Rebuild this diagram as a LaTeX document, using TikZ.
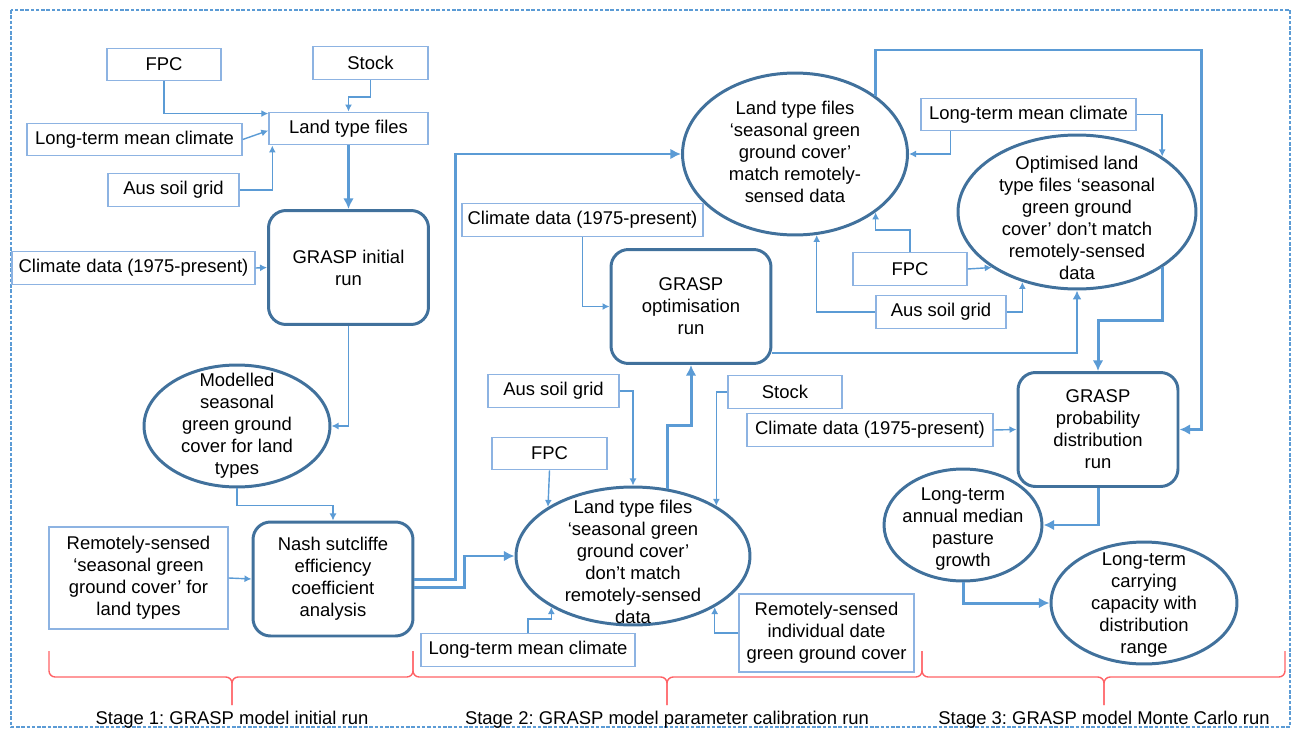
\documentclass[tikz,border=0pt]{standalone}
\usepackage{fontspec}
\setmainfont{Liberation Sans}
\usetikzlibrary{arrows.meta,shapes.geometric,calc}
\definecolor{boxblue}{HTML}{8DB3E2}
\definecolor{linkblue}{HTML}{5B9BD5}
\definecolor{ringblue}{HTML}{41719C}
\definecolor{bracered}{HTML}{FF6266}
\frenchspacing

\begin{document}
\begin{tikzpicture}[
  x=0.02cm, y=-0.02cm,
  font=\fontsize{10.5}{12.5}\selectfont,
  src/.style={draw=boxblue, line width=0.8pt, minimum height=0.65cm, inner sep=1pt, align=center},
  run/.style={draw=ringblue, line width=1.7pt, rounded corners=0.35cm, minimum width=3.2cm, minimum height=2.28cm, align=center},
  oval/.style={ellipse, draw=ringblue, line width=1.7pt, inner sep=0pt},
  every label/.style={align=center, inner sep=0pt},
  link/.style={draw=linkblue, line width=0.8pt, -{Latex[length=4pt,width=4pt]}},
  mid/.style={draw=linkblue, line width=1.2pt, -{Latex[length=5pt,width=5pt]}},
  flow/.style={draw=linkblue, line width=1.7pt, -{Latex[length=6pt,width=6pt]}},
  brk/.style={draw=bracered, line width=0.8pt, rounded corners=3.5pt},
  outerframe/.style={draw=linkblue, line width=0.9pt, dash pattern=on 2pt off 1pt}
]
\useasboundingbox (0,0) rectangle (1295,730);
\draw[outerframe] (11,10) rectangle (1290,727);

\node[src, minimum width=2.28cm] (fpc1) at (164,64.5) {FPC};
\node[src, minimum width=2.3cm] (stock1) at (370.5,63) {Stock};
\node[src, minimum width=3.18cm] (land1) at (348.5,128.5) {Land type files};
\node[src, minimum width=4.3cm] (ltmc1) at (134.5,139.5) {Long-term mean climate};
\node[src, minimum width=2.62cm] (aus1) at (173.5,190) {Aus soil grid};
\node[src, minimum width=4.86cm] (clim1) at (133.5,268) {Climate data (1975-present)};
\node[run] (init) at (348.5,267.5) {GRASP initial\\run};
\node[oval, minimum width=3.72cm, minimum height=2.44cm,
  label={center:Modelled\\seasonal\\green ground\\cover for land\\types}] (model) at (237,426) {};
\node[run] (nash) at (333,579) {Nash sutcliffe\\efficiency\\coefficient\\analysis};
\node[src, minimum width=3.58cm, minimum height=2.04cm] (rs1) at (138.5,578)
  {Remotely-sensed\\‘seasonal green\\ground cover’ for\\land types};

\node[oval, minimum width=4.5cm, minimum height=3.24cm,
  label={[yshift=0.04cm]center:Land type files\\‘seasonal green\\ground cover’\\match remotely-\\sensed data}] (match) at (795,154) {};
\node[src, minimum width=4.82cm] (clim2) at (582.5,220) {Climate data (1975-present)};
\node[run] (opt) at (691,306.5) {GRASP\\optimisation\\run};
\node[src, minimum width=4.3cm] (ltmc2) at (1028.5,114.5) {Long-term mean climate};
\node[oval, minimum width=4.76cm, minimum height=3.08cm,
  label={[yshift=-0.12cm]center:Optimised land\\type files ‘seasonal\\green ground\\cover’ don’t match\\remotely-sensed\\data}] (optim) at (1077,212) {};
\node[src, minimum width=2.28cm] (fpc2) at (910,269) {FPC};
\node[src, minimum width=2.6cm] (aus2) at (941,312) {Aus soil grid};
\node[src, minimum width=2.62cm] (aus3) at (553.5,391) {Aus soil grid};
\node[src, minimum width=2.3cm] (fpc3) at (549.5,453.5) {FPC};
\node[src, minimum width=2.28cm] (stock3) at (785,392) {Stock};
\node[oval, minimum width=4.68cm, minimum height=2.76cm,
  label={[yshift=-0.11cm]center:Land type files\\‘seasonal green\\ground cover’\\don’t match\\remotely-sensed\\data}] (dont) at (633,556) {};
\node[src, minimum width=4.28cm] (ltmc3) at (528,650) {Long-term mean climate};
\node[src, minimum width=3.5cm, minimum height=1.56cm] (rs2) at (826.5,633)
  {Remotely-sensed\\individual date\\green ground cover};

\node[src, minimum width=4.92cm] (clim3) at (870,430) {Climate data (1975-present)};
\node[run] (prob) at (1098,429.5) {GRASP\\probability\\distribution\\run};
\node[oval, minimum width=3.16cm, minimum height=2.24cm,
  label={[yshift=-0.08cm]center:Long-term\\annual median\\pasture\\growth}] (median) at (963,525) {};
\node[oval, minimum width=3.72cm, minimum height=2.44cm,
  label={[yshift=-0.04cm]center:Long-term\\carrying\\capacity with\\distribution\\range}] (carry) at (1144,603) {};
\coordinate (loop) at (1201,50);

\draw[link] (fpc1.south) |- ($(land1.north west)+(0,2)$);
\draw[link] (ltmc1.east) -- ($(land1.west)+(0,2)$);
\draw[link] (aus1.east) -| ($(land1.south west)+(4,0)$);
\draw[link] (stock1.south) -- ++(0,17) -| (land1.north);
\draw[flow] (land1.south) -- (init.north);
\draw[link] (clim1.east) -- (init.west);
\draw[link] (init.south) |- (model.east);
\draw[link] (model.south) -- ++(0,17) -| (nash.north);
\draw[link] (rs1.east) -- (nash.west);
\draw[flow] (nash.east) -- ++(41,0) |- (match.west);
\draw[flow] ($(nash.east)+(0,8)$) -- ++(50,0) |- (dont.west);

\draw[link] (clim2.south) |- (opt.west);
\draw[link] ($(ltmc2.south west)+(30,0)$) |- (match.east);
\draw[link] (ltmc2.east) -| (optim.north east);
\draw[link] (fpc2.north) -- ++(0,-22) -| (match.south east);
\draw[link] (fpc2.east) -- (optim.south west);
\draw[link] (aus2.west) -| (match.-75);
\draw[link] (aus2.east) -| (optim.-128);
\draw[mid] ($(opt.south east)+(0,-12)$) -| (optim.south);
\draw[flow] (optim.south east) -- ++(0,53) -| (prob.north);
\draw[flow] (match.36) |- (loop) |- (prob.east);
\draw[flow] (dont.63) -- ++(0,-63) -| (opt.south);
\draw[link] (aus3.east) -| (dont.north);
\draw[link] (fpc3.south) -- (dont.150);
\draw[link] (stock3.west) -| (dont.31);
\draw[link] (ltmc3.north) -- ++(0,-14) -| (dont.-148);
\draw[link] (rs2.west) -| (dont.-32);

\draw[link] (clim3.east) -- (prob.west);
\draw[flow] (prob.south) |- (median.east);
\draw[flow] (median.south) |- (carry.west);

\foreach \a/\m/\b in {49/232/413, 413/667/922, 922/1104/1285} {
  \draw[brk] (\a,651) |- (\m,677) -- (\m,705);
  \draw[brk] (\b,651) |- (\m,677) -- (\m,705);
}
\node[anchor=base] (s1) at (232,724) {Stage 1: GRASP model initial run};
\node[anchor=base] (s2) at (667,724) {Stage 2: GRASP model parameter calibration run};
\node[anchor=base] (s3) at (1104,724) {Stage 3: GRASP model Monte Carlo run};
\end{tikzpicture}
\end{document}
